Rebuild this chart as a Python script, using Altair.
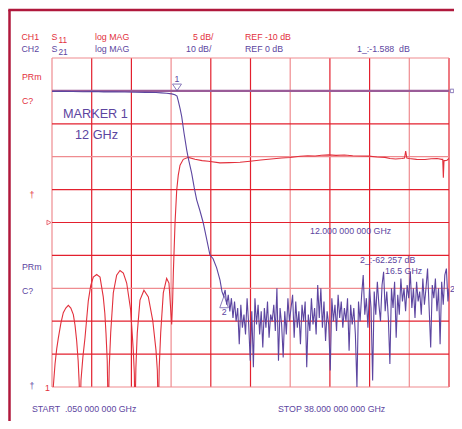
import altair as alt
import pandas as pd
import numpy as np

RED = "#e2303c"
PINK = "#ef8c90"
GRIDRED = "#e3202e"
PURPLE = "#5c45a0"
MAUVE = "#9a5c98"
FRAME = "#b0183c"
FONT = "Liberation Sans"

# ---------------- data ----------------
# CH1 S11 (dB) - red trace
s11_ghz = [0.05, 0.17, 0.34, 0.5, 0.65, 0.9, 1.13, 1.37, 1.61, 1.85, 2.09, 2.25, 2.41, 2.55, 2.65, 2.73,
           2.82, 3.0, 3.2, 3.52, 3.75, 4.0, 4.32, 4.64, 4.95, 5.1, 5.21, 5.33, 5.43,
           5.52, 5.66, 5.91, 6.23, 6.55, 6.87, 7.19, 7.57, 7.82, 7.92, 7.98,
           8.07, 8.2, 8.46, 8.84, 9.26, 9.68, 9.99, 10.12, 10.21,
           10.3, 10.44, 10.69, 11.01, 11.23, 11.4, 11.49,
           11.58, 11.65, 11.81, 11.97, 12.12, 12.29, 12.6, 13.08, 13.72, 14.4, 15.0, 16.11, 17.0, 18.02,
           18.98, 20.0, 21.0, 22.0, 22.8, 23.76, 24.5, 25.2, 25.8, 26.53, 27.2, 28.0, 28.8, 29.5, 30.35,
           31.1, 31.88, 32.36, 32.9, 33.5, 33.75, 33.86, 33.97, 34.18, 34.9, 35.71, 36.3, 36.86, 37.3,
           37.4, 37.46, 37.52, 37.6, 37.81, 38.0]
s11_db = [-38, -35, -31.5, -29.2, -27.6, -25.3, -23.7, -23.0, -22.6, -23.0, -24.0, -25.6, -28.0, -31.0, -34.5, -40,
          -34, -30.5, -27.6, -21.9, -19.6, -18.3, -17.9, -18.3, -21.3, -23.8, -26.8, -31.0, -40,
          -32.0, -26.8, -20.7, -18.0, -17.3, -17.7, -19.2, -23.3, -29.4, -33.0, -40,
          -32.0, -26.8, -21.8, -20.3, -21.3, -24.9, -29.4, -32.5, -40,
          -32.0, -26.8, -20.7, -18.5, -19.2, -23.3, -25.5,
          -22.0, -17.6, -10.1, -5.1, -2.8, -1.3, -0.4, -0.1, -0.4, -0.6, -0.7, -0.94, -0.9, -0.85,
          -0.68, -0.5, -0.35, -0.2, -0.12, 0.08, 0.15, 0.1, 0.22, 0.28, 0.2, 0.25, 0.15, 0.1, 0.08,
          -0.05, -0.1, -0.27, -0.35, -0.27, -0.2, 0.84, -0.2, -0.27, -0.4, -0.42, -0.3, -0.27, -0.4,
          -0.4, -3.2, -0.6, -0.6, -0.53, -0.27]

# CH2 S21 (dB) - purple trace, passband and skirt
s21_ghz = [0.05, 1.0, 2.0, 3.0, 4.0, 5.0, 6.0, 7.0, 8.0, 9.0, 10.0, 10.5, 11.0, 11.5, 11.8, 12.0,
           12.12, 12.3, 12.45, 12.67, 12.93, 13.08, 13.4, 13.65, 13.88, 14.2, 14.5, 14.8, 15.15, 15.45,
           15.79, 16.11]
s21_db = [-0.2, -0.15, -0.2, -0.25, -0.2, -0.3, -0.3, -0.35, -0.4, -0.45, -0.5, -0.6, -0.7, -0.9, -1.2, -1.588,
          -3.0, -5.5, -7.8, -12.8, -18.0, -20.5, -25.0, -29.5, -33.1, -36.5, -40.0, -44.5, -49.9, -51.0,
          -53.8, -57.5]

# CH2 S21 noise floor, sweep points from 16.3 GHz every 0.15 GHz
noise_start = 16.3
noise_step = 0.15
noise_db = [-61, -62.3, -60.5, -65, -62, -67, -63, -69,
            -64, -70, -66, -77, -65, -72, -68, -74, -63, -71,
            -82, -67, -84, -63, -71, -65, -74, -67, -78, -66, -72, -64, -75, -68, -70, -65, -73,
            -60, -82, -66, -71, -81, -67, -74, -63,
            -70, -66, -62, -75, -64, -72, -67, -77, -65, -70, -64, -84, -68, -73, -63, -71, -66,
            -74, -59, -69, -60, -72, -64, -76, -67,
            -71, -85, -63, -70, -65, -73, -62, -69, -64, -72, -66, -70, -63, -79, -65, -71, -66,
            -74, -90, -64, -70, -62, -56, -68, -63, -72,
            -60, -66, -88, -61, -68, -58, -65, -70, -59, -55, -67, -61, -69, -83, -60, -66, -58,
            -75, -62, -68, -57, -64, -60, -67, -59,
            -63, -55, -66, -60, -69, -58, -64, -61, -68, -57, -65, -60, -54, -66, -78, -59, -63,
            -57, -67, -60, -77, -58, -65, -56, -54, -64]
noise_end_ghz = 38.0
noise_end_db = -60

# markers
mk_ghz = [12.0, 16.5]
mk_db = [-1.588, -62.257]

# grid
div_ghz = list(np.linspace(0.05, 38.0, 11))
div_s11 = list(range(-35, 16, 5))
vcols = [PINK if i in (0, 3, 6, 9) else GRIDRED for i in range(11)]
hcols = [PINK if i in (0, 3, 7, 10) else GRIDRED for i in range(11)]

# ---------------- tables ----------------
noise_ghz = [noise_start + noise_step * i for i in range(len(noise_db))] + [noise_end_ghz]
s21_all = pd.DataFrame({"f": s21_ghz + noise_ghz, "db": s21_db + noise_db + [noise_end_db]})
s11_df = pd.DataFrame({"f": s11_ghz, "db": s11_db})
vgrid = pd.DataFrame({"f": div_ghz, "c": vcols})
hgrid = pd.DataFrame({"d": div_s11, "c": list(reversed(hcols))})

xs = alt.Scale(domain=[0.05, 38.0], nice=False, zero=False)
y11 = alt.Scale(domain=[-35, 15], nice=False, zero=False)
y21 = alt.Scale(domain=[-90, 10], nice=False, zero=False)

X = alt.X("f:Q", scale=xs, axis=None)

vg = alt.Chart(vgrid).mark_rule(strokeWidth=1.2).encode(x=X, color=alt.Color("c:N", scale=None))
hg = alt.Chart(hgrid).mark_rule(strokeWidth=1.2).encode(
    y=alt.Y("d:Q", scale=y11, axis=None), color=alt.Color("c:N", scale=None))

refline = alt.Chart(pd.DataFrame({"db": [0]})).mark_rule(color=MAUVE, strokeWidth=2.4).encode(
    y=alt.Y("db:Q", scale=y21, axis=None))

s11_line = alt.Chart(s11_df).mark_line(color=RED, strokeWidth=1.1, clip=True).encode(
    x=X, y=alt.Y("db:Q", scale=y11, axis=None))
s21_line = alt.Chart(s21_all).mark_line(color=PURPLE, strokeWidth=1.1, clip=True).encode(
    x=X, y=alt.Y("db:Q", scale=y21, axis=None))

m1 = pd.DataFrame({"f": [mk_ghz[0]], "db": [mk_db[0]], "t": ["1"]})
m2 = pd.DataFrame({"f": [mk_ghz[1]], "db": [mk_db[1]], "t": ["2"]})
Y21 = alt.Y("db:Q", scale=y21, axis=None)
mk1 = alt.Chart(m1).mark_point(shape="M -1 -0.75 L 1 -0.75 L 0 0.75 Z", size=81, filled=False,
                               color=PURPLE, strokeWidth=1, yOffset=-8.7).encode(x=X, y=Y21)
mk1t = alt.Chart(m1).mark_text(dy=-17, font=FONT, fontSize=8.8, color=PURPLE).encode(x=X, y=Y21, text="t:N")
mk2 = alt.Chart(m2).mark_point(shape="M 0 -1 L 0.72 1 L -0.72 1 Z", size=144, filled=False,
                               color=PURPLE, strokeWidth=1, yOffset=6).encode(x=X, y=Y21)
mk2t = alt.Chart(m2).mark_text(dy=16.5, font=FONT, fontSize=8.8, color=PURPLE).encode(x=X, y=Y21, text="t:N")

# reference-level indicators
ref1 = alt.Chart(pd.DataFrame({"f": [0.05], "db": [-10]})).mark_point(
    shape="triangle-right", size=22, filled=False, color=RED, strokeWidth=1, xOffset=-3).encode(
    x=X, y=alt.Y("db:Q", scale=y11, axis=None))
ref2 = alt.Chart(pd.DataFrame({"f": [38.0], "db": [0]})).mark_point(
    shape="square", size=12, filled=False, color=PURPLE, strokeWidth=1, xOffset=3).encode(x=X, y=Y21)

# frame of the screen
frame_l = alt.Chart(pd.DataFrame({"a": [0]})).mark_rule(color=FRAME, strokeWidth=2.5).encode(
    x=alt.value(-42.5), y=alt.value(-48), y2=alt.value(371))
frame_t = alt.Chart(pd.DataFrame({"a": [0]})).mark_rule(color=FRAME, strokeWidth=2.5).encode(
    x=alt.value(-43.7), x2=alt.value(410), y=alt.value(-48))

# text annotations (page coords minus plot origin 52,58)
OX, OY = 52, 58
labels = [
    ("CH1", 21.5, 36.5, RED, 8.8), ("S", 51.5, 36.5, RED, 8.8), ("11", 58.5, 40.5, RED, 8.3),
    ("log MAG", 95, 36.5, RED, 8.8), ("5 dB/", 193, 36.5, RED, 8.8), ("REF -10 dB", 245, 36.5, RED, 8.8),
    ("CH2", 21.5, 49, PURPLE, 8.8), ("S", 51.5, 49, PURPLE, 8.8), ("21", 58.5, 53, PURPLE, 8.3),
    ("log MAG", 95, 49, PURPLE, 8.8), ("10 dB/", 186, 49, PURPLE, 8.8), ("REF 0 dB", 245, 49, PURPLE, 8.8),
    ("1_:-1.588\u00a0 dB", 357, 49, PURPLE, 8.8),
    ("PRm", 22, 77, RED, 8.8), ("C?", 22, 100.5, RED, 8.8),
    ("MARKER 1", 63, 114, PURPLE, 12.7), ("12 GHz", 75, 135, PURPLE, 12.7),
    ("\u2020", 29.5, 194.5, RED, 8.8),
    ("PRm", 22, 267, PURPLE, 8.8), ("C?", 22, 290.5, PURPLE, 8.8),
    ("\u2020", 29.5, 385.5, PURPLE, 8.8), ("1", 45, 388, RED, 8.8),
    ("12.000 000 000 GHz", 310, 231, PURPLE, 8.8),
    ("2_:-62.257 dB", 360, 259.5, PURPLE, 8.8), ("16.5 GHz", 385, 270.5, PURPLE, 8.8),
    ("2", 450, 289, PURPLE, 8.8),
    ("START\u00a0 .050 000 000 GHz", 32, 408.5, PURPLE, 8.8),
    ("STOP 38.000 000 000 GHz", 278, 408.5, PURPLE, 8.8),
]
lab_df = pd.DataFrame({
    "t": [l[0] for l in labels],
    "px": [l[1] - OX for l in labels],
    "py": [l[2] - OY for l in labels],
    "col": [l[3] for l in labels],
    "fs": [l[4] for l in labels],
})
texts = alt.Chart(lab_df).mark_text(align="left", baseline="middle", font=FONT).encode(
    x=alt.X("px:Q", scale=None, axis=None),
    y=alt.Y("py:Q", scale=None, axis=None),
    color=alt.Color("col:N", scale=None),
    size=alt.Size("fs:Q", scale=None),
    text="t:N",
)

chart = alt.layer(
    frame_l, frame_t, vg, hg, refline, s11_line, s21_line, mk1, mk1t, mk2, mk2t, ref1, ref2, texts
).resolve_scale(x="independent", y="independent", color="independent", size="independent").properties(
    width=397, height=329,
    autosize=alt.AutoSizeParams(type="none"),
    padding={"left": 44, "top": 50, "right": 5, "bottom": 34},
    background="white",
).configure_view(strokeWidth=0)

chart.save("out.html", embed_options={"renderer": "svg", "actions": False})
